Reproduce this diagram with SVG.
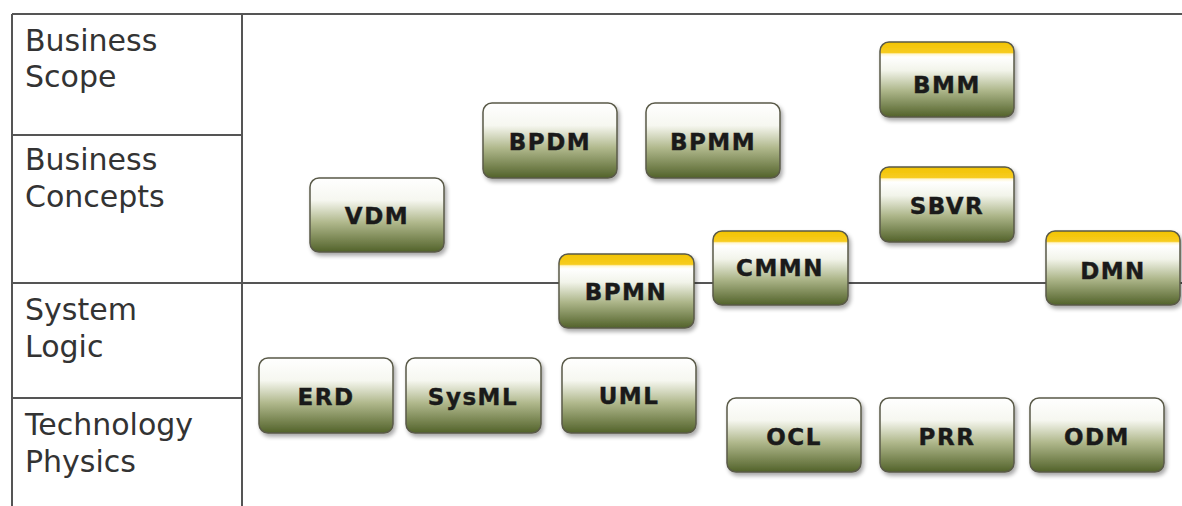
<svg xmlns="http://www.w3.org/2000/svg" width="1182" height="506" viewBox="0 0 1182 506">
<defs>
<linearGradient id="g" x1="0" y1="0" x2="0" y2="1">
<stop offset="0" stop-color="#ffffff"/>
<stop offset="0.3" stop-color="#f6f7f0"/>
<stop offset="0.6" stop-color="#b0b88c"/>
<stop offset="1" stop-color="#52622a"/>
</linearGradient>
<linearGradient id="gy" x1="0" y1="0" x2="0" y2="1">
<stop offset="0" stop-color="#f2c300"/>
<stop offset="0.14" stop-color="#f7cc20"/>
<stop offset="0.16" stop-color="#fff6d0"/>
<stop offset="0.2" stop-color="#ffffff"/>
<stop offset="0.38" stop-color="#f2f4ea"/>
<stop offset="0.65" stop-color="#adb68a"/>
<stop offset="1" stop-color="#52622a"/>
</linearGradient>
<filter id="sh" x="-10%" y="-10%" width="125%" height="130%">
<feGaussianBlur in="SourceAlpha" stdDeviation="2"/>
<feOffset dx="2" dy="3"/>
<feComponentTransfer><feFuncA type="linear" slope="0.35"/></feComponentTransfer>
<feMerge><feMergeNode/><feMergeNode in="SourceGraphic"/></feMerge>
</filter>
</defs>
<style>
.ln{stroke:#555;stroke-width:2;fill:none}
.lab{font-family:"DejaVu Sans",Verdana,sans-serif;font-size:30px;fill:#333}
.box{fill:url(#g);stroke:#5a5a48;stroke-width:1.5;filter:url(#sh)}
.boxy{fill:url(#gy);stroke:#5a5a48;stroke-width:1.5;filter:url(#sh)}
.t{font-family:"DejaVu Sans",Verdana,sans-serif;font-weight:bold;font-size:23px;letter-spacing:1.5px;fill:#1a1a1a;stroke:#1a1a1a;stroke-width:0.4;text-anchor:middle}
</style>
<rect width="1182" height="506" fill="#ffffff"/>
<g id="grid">
<line class="ln" x1="12" y1="14" x2="1182" y2="14"/>
<line class="ln" x1="12" y1="14" x2="12" y2="506"/>
<line class="ln" x1="242" y1="14" x2="242" y2="506"/>
<line class="ln" x1="12" y1="135" x2="242" y2="135"/>
<line class="ln" x1="12" y1="283" x2="1182" y2="283"/>
<line class="ln" x1="12" y1="398" x2="242" y2="398"/>
</g>
<g id="labels">
<text class="lab" x="25" y="51">Business</text>
<text class="lab" x="25" y="87">Scope</text>
<text class="lab" x="25" y="170">Business</text>
<text class="lab" x="25" y="207">Concepts</text>
<text class="lab" x="25" y="320">System</text>
<text class="lab" x="25" y="357">Logic</text>
<text class="lab" x="25" y="435">Technology</text>
<text class="lab" x="25" y="472">Physics</text>
</g>
<g id="connectors"></g>
<g id="BMM"><rect class="boxy" x="880" y="42" width="134" height="75" rx="9"/><text class="t" x="947" y="93">BMM</text></g>
<g id="BPDM"><rect class="box" x="483" y="103" width="134" height="75" rx="9"/><text class="t" x="550" y="150">BPDM</text></g>
<g id="BPMM"><rect class="box" x="646" y="103" width="134" height="75" rx="9"/><text class="t" x="713" y="150">BPMM</text></g>
<g id="SBVR"><rect class="boxy" x="880" y="167" width="134" height="75" rx="9"/><text class="t" x="947" y="214">SBVR</text></g>
<g id="VDM"><rect class="box" x="310" y="178" width="134" height="74" rx="9"/><text class="t" x="377" y="224">VDM</text></g>
<g id="CMMN"><rect class="boxy" x="713" y="231" width="135" height="74" rx="9"/><text class="t" x="780" y="276">CMMN</text></g>
<g id="DMN"><rect class="boxy" x="1046" y="231" width="134" height="74" rx="9"/><text class="t" x="1113" y="279">DMN</text></g>
<g id="BPMN"><rect class="boxy" x="559" y="254" width="135" height="74" rx="9"/><text class="t" x="626" y="300">BPMN</text></g>
<g id="ERD"><rect class="box" x="259" y="358" width="134" height="75" rx="9"/><text class="t" x="326" y="405">ERD</text></g>
<g id="SysML"><rect class="box" x="406" y="358" width="135" height="75" rx="9"/><text class="t" x="473" y="405">SysML</text></g>
<g id="UML"><rect class="box" x="562" y="358" width="134" height="75" rx="9"/><text class="t" x="629" y="404">UML</text></g>
<g id="OCL"><rect class="box" x="727" y="398" width="134" height="74" rx="9"/><text class="t" x="794" y="445">OCL</text></g>
<g id="PRR"><rect class="box" x="880" y="398" width="134" height="74" rx="9"/><text class="t" x="947" y="445">PRR</text></g>
<g id="ODM"><rect class="box" x="1030" y="398" width="134" height="74" rx="9"/><text class="t" x="1097" y="445">ODM</text></g>
</svg>
